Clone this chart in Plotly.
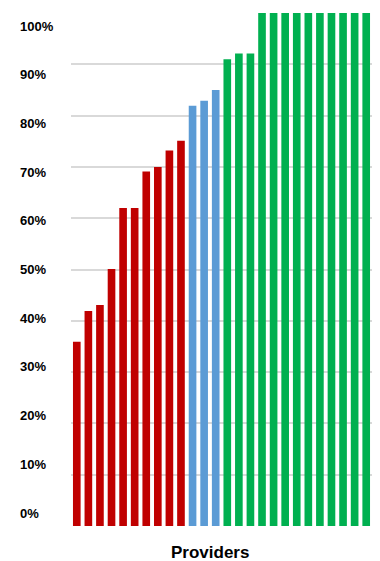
import plotly.graph_objects as go

providers = [f"P{i}" for i in range(1, 27)]
values = [35.9, 41.9, 43.1, 50.1, 62.0, 62.0, 69.1, 70.0, 73.2, 75.1,
          81.9, 82.9, 85.0,
          91.0, 92.1, 92.1, 100, 100, 100, 100, 100, 100, 100, 100, 100, 100]
groups = ["low"] * 10 + ["mid"] * 3 + ["high"] * 13
group_colors = {"low": "#C00000", "mid": "#5B9BD5", "high": "#00B050"}
tick_values = [0, 10, 20, 30, 40, 50, 60, 70, 80, 90, 100]
tick_labels = [f"{v}%" for v in tick_values]
x_title = "Providers"

fig = go.Figure()
fig.add_trace(go.Bar(
    x=providers, y=values,
    marker=dict(color=[group_colors[g] for g in groups], line=dict(width=0)),
    hoverinfo="x+y",
))
# invisible helper trace on y2 so the axis exists
fig.add_trace(go.Scatter(x=[providers[0]], y=[0], yaxis="y2", mode="markers",
                         marker=dict(opacity=0), showlegend=False, hoverinfo="skip"))

font = "Liberation Sans, Arial, sans-serif"
annotations = []
for v, lab in zip(tick_values, tick_labels):
    annotations.append(dict(
        x=-0.175, xref="paper", xanchor="left",
        y=v, yref="y2", yanchor="middle",
        text=f"<b>{lab}</b>", showarrow=False,
        font=dict(family=font, size=13, color="#000000"),
    ))
annotations.append(dict(
    x=0.463, xref="paper", xanchor="center",
    y=-0.0517, yref="paper", yanchor="middle",
    text=f"<b>{x_title}</b>", showarrow=False,
    font=dict(family=font, size=17, color="#000000"),
))

fig.update_layout(
    width=380, height=561,
    margin=dict(l=71, r=8, t=13, b=35),
    paper_bgcolor="white", plot_bgcolor="white",
    showlegend=False,
    bargap=0.34,
    xaxis=dict(range=[-0.5, len(providers) - 0.5], showticklabels=False,
               showgrid=False, zeroline=False, showline=False, ticks=""),
    yaxis=dict(range=[0, 100], dtick=10, showticklabels=False,
               showgrid=True, gridcolor="#D9D9D9", gridwidth=1.5,
               zeroline=False, showline=False, ticks=""),
    yaxis2=dict(range=[-2.67, 102.67], overlaying="y", visible=False),
    annotations=annotations,
)

fig.write_html("out.html")
